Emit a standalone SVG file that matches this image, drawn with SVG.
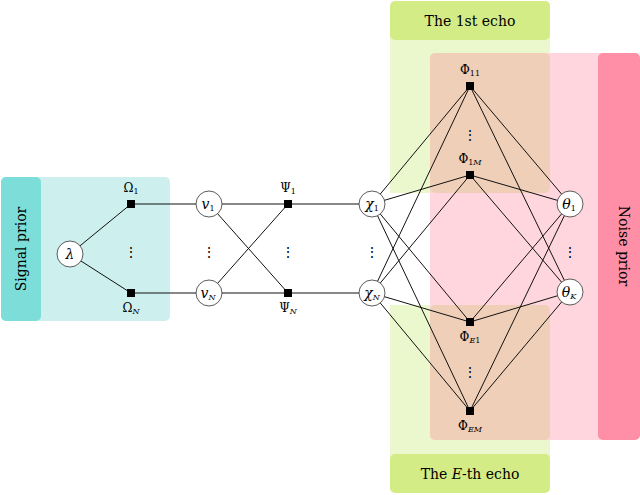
<svg xmlns="http://www.w3.org/2000/svg" width="640" height="495" viewBox="0 0 640 495">
<style>
text{font-family:"DejaVu Serif",serif;fill:#000}
.lab{font-size:12px;text-anchor:middle}
.c{fill:#fff;stroke:#333;stroke-width:0.8}
.f{fill:#000}
.e{stroke:#111;stroke-width:1;fill:none}
.d{font-size:14px;text-anchor:middle}
</style>
<g id="regions">
<rect x="1" y="177" width="169" height="144" rx="5" fill="#cdf0ee"/>
<rect x="1" y="177" width="40" height="144" rx="5" fill="#7dddd8"/>
<text transform="translate(26,249) rotate(-90)" font-size="14" text-anchor="middle">Signal prior</text>
<rect x="390" y="30" width="160" height="163" fill="#ebf7cc"/>
<rect x="390" y="305" width="160" height="159" fill="#ebf7cc"/>
<rect x="430" y="53" width="210" height="387" rx="5" fill="#ffd6de"/>
<rect x="430" y="53" width="120" height="140" rx="5" fill="#efcfb8"/>
<rect x="430" y="305" width="120" height="135" rx="5" fill="#efcfb8"/>
<rect x="598" y="53" width="42" height="387" rx="5" fill="#ff8fa6"/>
<text transform="translate(619,246) rotate(90)" font-size="14" text-anchor="middle">Noise prior</text>
<rect x="390" y="1" width="160" height="39" rx="5" fill="#d4ec85"/>
<text x="470" y="26" font-size="14" text-anchor="middle">The 1st echo</text>
<rect x="390" y="454" width="160" height="39" rx="5" fill="#d4ec85"/>
<text x="470" y="479" font-size="14" text-anchor="middle">The <tspan font-style="italic">E</tspan>-th echo</text>
</g>
<g id="edges" class="e">
<path d="M70,254L131,204M70,254L131,293M131,204H209M131,293H209M209,204H288M209,293H288M209,204L288,293M209,293L288,204M288,204H372M288,293H372"/>
<path d="M372,204L470,86M372,204L470,175M372,204L470,322M372,204L470,411M372,293L470,86M372,293L470,175M372,293L470,322M372,293L470,411"/>
<path d="M570,204L470,86M570,204L470,175M570,204L470,322M570,204L470,411M570,292L470,86M570,292L470,175M570,292L470,322M570,292L470,411"/>
</g>
<g id="lambda"><circle class="c" cx="70" cy="254" r="13"/><text x="70" y="259" font-size="14" font-style="italic" text-anchor="middle">λ</text></g>
<g id="omega1"><rect class="f" x="127" y="200" width="8" height="8"/><text class="lab" x="131" y="192">Ω<tspan font-size="8" dy="2">1</tspan></text></g>
<g id="omegaN"><rect class="f" x="127" y="289" width="8" height="8"/><text class="lab" x="131" y="312">Ω<tspan font-size="8" font-style="italic" dy="2">N</tspan></text></g>
<text class="d" x="131" y="257">⋮</text>
<g id="v1"><circle class="c" cx="209" cy="204" r="13"/><text x="208" y="209" font-size="14" text-anchor="middle"><tspan font-style="italic">v</tspan><tspan font-size="8" dy="2">1</tspan></text></g>
<g id="vN"><circle class="c" cx="209" cy="293" r="13"/><text x="208" y="298" font-size="14" text-anchor="middle"><tspan font-style="italic">v</tspan><tspan font-size="8" font-style="italic" dy="2">N</tspan></text></g>
<text class="d" x="209" y="257">⋮</text>
<g id="psi1"><rect class="f" x="284" y="200" width="8" height="8"/><text class="lab" x="288" y="192">Ψ<tspan font-size="8" dy="2">1</tspan></text></g>
<g id="psiN"><rect class="f" x="284" y="289" width="8" height="8"/><text class="lab" x="288" y="312">Ψ<tspan font-size="8" font-style="italic" dy="2">N</tspan></text></g>
<text class="d" x="288" y="257">⋮</text>
<g id="chi1"><circle class="c" cx="372" cy="204" r="13"/><text x="372" y="209" font-size="14" text-anchor="middle"><tspan font-style="italic">χ</tspan><tspan font-size="8" dy="2">1</tspan></text></g>
<g id="chiN"><circle class="c" cx="372" cy="293" r="13"/><text x="372" y="298" font-size="14" text-anchor="middle"><tspan font-style="italic">χ</tspan><tspan font-size="8" font-style="italic" dy="2">N</tspan></text></g>
<text class="d" x="372" y="257">⋮</text>
<g id="phi11"><rect class="f" x="466" y="82" width="8" height="8"/><text class="lab" x="470" y="74">Φ<tspan font-size="8" dy="2">11</tspan></text></g>
<text class="d" x="470" y="140">⋮</text>
<g id="phi1M"><rect class="f" x="466" y="171" width="8" height="8"/><text class="lab" x="470" y="163">Φ<tspan font-size="8" dy="2">1</tspan><tspan font-size="8" font-style="italic">M</tspan></text></g>
<g id="phiE1"><rect class="f" x="466" y="318" width="8" height="8"/><text class="lab" x="470" y="341">Φ<tspan font-size="8" font-style="italic" dy="2">E</tspan><tspan font-size="8">1</tspan></text></g>
<text class="d" x="470" y="377">⋮</text>
<g id="phiEM"><rect class="f" x="466" y="407" width="8" height="8"/><text class="lab" x="470" y="430">Φ<tspan font-size="8" font-style="italic" dy="2">EM</tspan></text></g>
<g id="theta1"><circle class="c" cx="570" cy="204" r="13"/><text x="569" y="209" font-size="14" text-anchor="middle"><tspan font-style="italic">θ</tspan><tspan font-size="8" dy="2">1</tspan></text></g>
<g id="thetaK"><circle class="c" cx="570" cy="292" r="13"/><text x="569" y="297" font-size="14" text-anchor="middle"><tspan font-style="italic">θ</tspan><tspan font-size="8" font-style="italic" dy="2">K</tspan></text></g>
<text class="d" x="570" y="257">⋮</text>
</svg>
